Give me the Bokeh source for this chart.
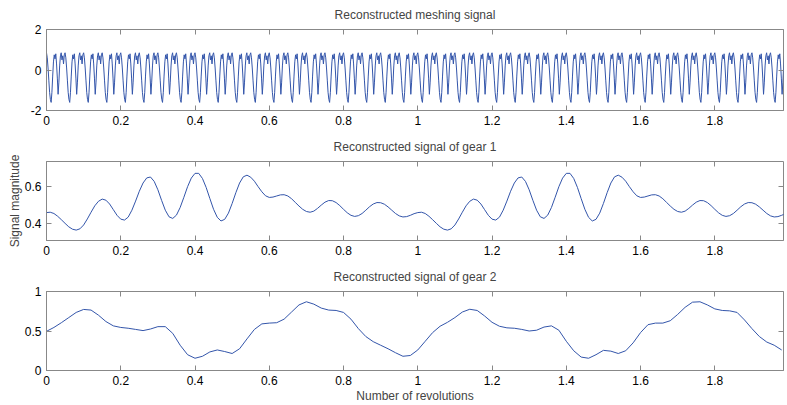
import numpy as np
from bokeh.plotting import figure
from bokeh.layouts import column
from bokeh.models import (LinearAxis, FixedTicker, NumeralTickFormatter, Range1d,
                          CustomLabelingPolicy)
from bokeh.embed import file_html
from bokeh.resources import INLINE

# ---------------- data ----------------
titles = ["Reconstructed meshing signal",
          "Reconstructed signal of gear 1",
          "Reconstructed signal of gear 2"]
x_label = "Number of revolutions"
y_label = "Signal magnitude"
x_ticks = [0, 0.2, 0.4, 0.6, 0.8, 1.0, 1.2, 1.4, 1.6, 1.8]
mesh_yticks = [-2, 0, 2]
gear1_yticks = [0.4, 0.6]
gear2_yticks = [0, 0.5, 1]

# one tooth-mesh period of the meshing signal (0.05 rev)
tooth_profile = [0.85, 0.60, 0.10, -0.50, -1.10, -1.45,
                 -1.60, -1.10, -0.30, 0.40, 0.75, 0.55,
                 0.80, 0.30, -0.40, -1.20, -0.60, 0.20,
                 0.70, 0.85, 0.50, 0.70, 0.30, 0.75]
tooth_span = 0.05
tooth_count = 40

# gear 1 signal over one revolution, sampled every 0.01 rev
gear1_rev = [0.458, 0.460, 0.453, 0.438, 0.419, 0.399, 0.380, 0.367, 0.362, 0.369,
             0.390, 0.423, 0.460, 0.495, 0.520, 0.532, 0.526, 0.505, 0.474, 0.443,
             0.422, 0.417, 0.433, 0.471, 0.521, 0.575, 0.620, 0.648, 0.653, 0.629,
             0.583, 0.525, 0.471, 0.435, 0.426, 0.444, 0.486, 0.542, 0.600, 0.647,
             0.673, 0.673, 0.645, 0.596, 0.535, 0.476, 0.432, 0.412, 0.421, 0.455,
             0.508, 0.567, 0.620, 0.654, 0.663, 0.652, 0.630, 0.600, 0.572, 0.550,
             0.541, 0.543, 0.549, 0.555, 0.556, 0.549, 0.534, 0.514, 0.494, 0.476,
             0.464, 0.460, 0.466, 0.481, 0.499, 0.515, 0.524, 0.523, 0.513, 0.496,
             0.476, 0.457, 0.443, 0.437, 0.441, 0.453, 0.471, 0.490, 0.505, 0.513,
             0.512, 0.504, 0.489, 0.471, 0.453, 0.440, 0.434, 0.436, 0.443, 0.452]
gear1_step = 0.01
gear1_revs = 2

# gear 2 signal, sampled every 0.02 rev
gear2_vals = [0.496, 0.545, 0.605, 0.670, 0.735, 0.773, 0.765, 0.700, 0.620, 0.565,
              0.545, 0.535, 0.520, 0.505, 0.525, 0.555, 0.555, 0.470, 0.320, 0.200,
              0.155, 0.180, 0.235, 0.260, 0.240, 0.215, 0.275, 0.400, 0.520, 0.590,
              0.600, 0.605, 0.650, 0.740, 0.830, 0.870, 0.840, 0.790, 0.765, 0.760,
              0.735, 0.650, 0.530, 0.430, 0.365, 0.320, 0.275, 0.225, 0.180, 0.190,
              0.260, 0.370, 0.480, 0.560, 0.610, 0.670, 0.740, 0.775, 0.760, 0.690,
              0.610, 0.560, 0.540, 0.535, 0.520, 0.500, 0.510, 0.550, 0.565, 0.510,
              0.370, 0.250, 0.170, 0.155, 0.200, 0.255, 0.245, 0.215, 0.250, 0.350,
              0.480, 0.580, 0.600, 0.600, 0.630, 0.710, 0.800, 0.865, 0.870, 0.830,
              0.780, 0.760, 0.755, 0.735, 0.640, 0.530, 0.430, 0.360, 0.320, 0.260]
gear2_step = 0.02

# ---------------- series ----------------
mesh_y = np.tile(tooth_profile, tooth_count)
mesh_x = np.arange(len(mesh_y)) * (tooth_span / len(tooth_profile))
g1_y = np.tile(gear1_rev, gear1_revs)
g1_x = np.arange(len(g1_y)) * gear1_step
g2_y = np.array(gear2_vals)
g2_x = np.arange(len(g2_y)) * gear2_step

FONT = "Liberation Sans"
GREY = "#888888"
BLUE = "#3355aa"
X_END = 1.985


def style_axis(ax, ticks, show_labels=True):
    ax.ticker = FixedTicker(ticks=ticks)
    ax.formatter = NumeralTickFormatter(format="0.[0]")
    ax.major_tick_in = 5
    ax.major_tick_out = 0
    ax.minor_tick_line_color = None
    ax.axis_line_color = GREY
    ax.major_tick_line_color = GREY
    ax.major_label_text_font = FONT
    ax.major_label_text_color = "#000000"
    if show_labels:
        ax.major_label_text_font_size = "12px"
        ax.major_label_standoff = 5
    else:
        ax.major_label_text_font_size = "1px"
        ax.major_label_standoff = 0
        ax.major_label_policy = CustomLabelingPolicy(code="return new Set()")
        ax.axis_line_color = None


def make_fig(title, height, top, bottom, yr, yticks, xs, ys, xlab=None, ylab=None):
    p = figure(width=787, height=height, output_backend="svg", toolbar_location=None,
               x_range=Range1d(0, X_END), y_range=Range1d(*yr),
               min_border_left=46, min_border_right=1,
               min_border_top=top, min_border_bottom=bottom)
    p.title.text = title
    p.title.align = "center"
    p.title.text_font = FONT
    p.title.text_font_size = "12px"
    p.title.text_font_style = "normal"
    p.title.standoff = 7
    p.xgrid.visible = False
    p.ygrid.visible = False
    p.outline_line_color = GREY
    p.outline_line_width = 1
    bottom_ax = p.below[0]
    left_ax = p.left[0]
    style_axis(bottom_ax, x_ticks)
    style_axis(left_ax, yticks)
    top_ax = LinearAxis()
    style_axis(top_ax, x_ticks, show_labels=False)
    p.add_layout(top_ax, "above")
    right_ax = LinearAxis()
    style_axis(right_ax, yticks, show_labels=False)
    p.add_layout(right_ax, "right")
    if xlab:
        bottom_ax.axis_label = xlab
        bottom_ax.axis_label_text_font = FONT
        bottom_ax.axis_label_text_font_size = "12px"
        bottom_ax.axis_label_text_font_style = "normal"
        bottom_ax.axis_label_standoff = 1
    if ylab:
        left_ax.axis_label = ylab
        left_ax.axis_label_text_font = FONT
        left_ax.axis_label_text_font_size = "12px"
        left_ax.axis_label_text_font_style = "normal"
        left_ax.axis_label_standoff = 0
    p.line(xs, ys, line_color=BLUE, line_width=1)
    return p


p1 = make_fig(titles[0], 134, 29, 24, (-2, 2), mesh_yticks, mesh_x, mesh_y)
p2 = make_fig(titles[1], 130, 25, 24, (0.305, 0.738), gear1_yticks, g1_x, g1_y, ylab=y_label)
p3 = make_fig(titles[2], 141, 25, 35, (0, 1), gear2_yticks, g2_x, g2_y, xlab=x_label)

layout = column(p1, p2, p3, spacing=0)
open("out.html", "w").write(file_html(layout, INLINE))
